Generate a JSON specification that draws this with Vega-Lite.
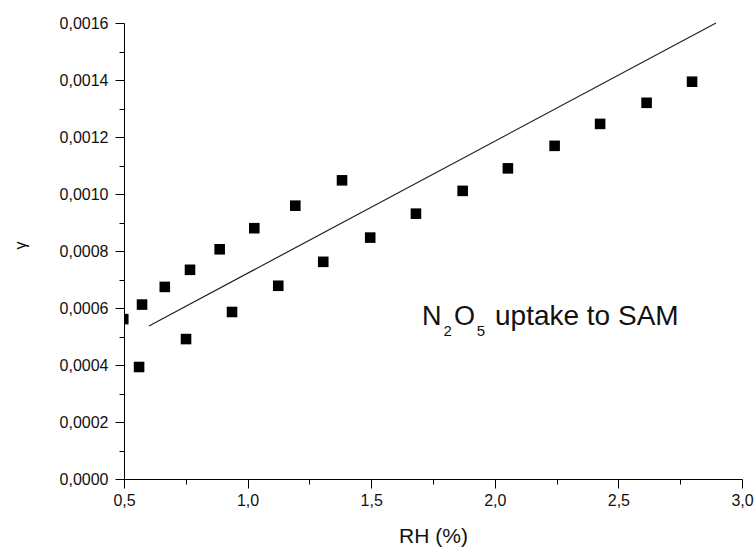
{
  "$schema": "https://vega.github.io/schema/vega-lite/v6.json",
  "width": 618,
  "height": 456,
  "autosize": {"type": "none"},
  "padding": {"left": 124, "top": 23, "right": 13, "bottom": 70},
  "background": "white",
  "config": {"view": {"stroke": null}, "font": "Liberation Sans"},
  "datasets": {
    "points": [
      {"rh": 0.497, "gamma": 0.000561},
      {"rh": 0.561, "gamma": 0.000393},
      {"rh": 0.573, "gamma": 0.000612},
      {"rh": 0.665, "gamma": 0.000674},
      {"rh": 0.751, "gamma": 0.000491},
      {"rh": 0.767, "gamma": 0.000734},
      {"rh": 0.887, "gamma": 0.000806},
      {"rh": 0.937, "gamma": 0.000586},
      {"rh": 1.027, "gamma": 0.000880},
      {"rh": 1.124, "gamma": 0.000678},
      {"rh": 1.193, "gamma": 0.000959},
      {"rh": 1.306, "gamma": 0.000762},
      {"rh": 1.382, "gamma": 0.001048},
      {"rh": 1.496, "gamma": 0.000847},
      {"rh": 1.681, "gamma": 0.000931},
      {"rh": 1.870, "gamma": 0.001011},
      {"rh": 2.053, "gamma": 0.001090},
      {"rh": 2.242, "gamma": 0.001169},
      {"rh": 2.426, "gamma": 0.001246},
      {"rh": 2.614, "gamma": 0.001320},
      {"rh": 2.798, "gamma": 0.001394}
    ],
    "fit": [
      {"rh": 0.601, "gamma": 0.000537},
      {"rh": 2.895, "gamma": 0.0016}
    ],
    "one": [{}]
  },
  "layer": [
    {
      "data": {"name": "points"},
      "mark": {"type": "point", "shape": "square", "filled": true, "size": 112, "color": "black", "opacity": 1, "clip": true},
      "encoding": {
        "x": {
          "field": "rh", "type": "quantitative",
          "scale": {"domain": [0.5, 3.0], "nice": false, "zero": false},
          "axis": {
            "orient": "bottom", "values": [0.5, 1, 1.5, 2, 2.5, 3], "title": "RH (%)",
            "labelExpr": "replace(format(datum.value, '.1f'), '.', ',')",
            "grid": false, "domainColor": "black", "domainWidth": 1, "tickColor": "black", "tickSize": 9, "tickWidth": 1,
            "labelFontSize": 16, "labelColor": "#111", "labelPadding": 4, "labelFlush": false, "labelOverlap": false,
            "titleFontSize": 21, "titleFontWeight": "normal", "titleColor": "#111", "titleY": 57, "titleBaseline": "middle"
          }
        },
        "y": {
          "field": "gamma", "type": "quantitative",
          "scale": {"domain": [0, 0.0016], "nice": false, "zero": false},
          "axis": {
            "orient": "left", "values": [0, 0.0002, 0.0004, 0.0006, 0.0008, 0.001, 0.0012, 0.0014, 0.0016], "title": "γ",
            "labelExpr": "replace(format(datum.value, '.4f'), '.', ',')",
            "grid": false, "domainColor": "black", "domainWidth": 1, "tickColor": "black", "tickSize": 9, "tickWidth": 1,
            "labelFontSize": 16, "labelColor": "#111", "labelPadding": 7, "labelFlush": false, "labelOverlap": false,
            "titleFontSize": 16, "titleFontWeight": "normal", "titleColor": "#111",
            "titleX": -104, "titleY": 222, "titleBaseline": "middle", "titleAlign": "center"
          }
        }
      }
    },
    {
      "data": {"name": "points"},
      "mark": {"type": "point", "opacity": 0},
      "encoding": {
        "x": {
          "field": "rh", "type": "quantitative",
          "axis": {"orient": "bottom", "values": [0.75, 1.25, 1.75, 2.25, 2.75], "labels": false, "domain": false, "grid": false, "title": null, "tickColor": "black", "tickSize": 5, "tickWidth": 1}
        },
        "y": {
          "field": "gamma", "type": "quantitative",
          "axis": {"orient": "left", "values": [0.0001, 0.0003, 0.0005, 0.0007, 0.0009, 0.0011, 0.0013, 0.0015], "labels": false, "domain": false, "grid": false, "title": null, "tickColor": "black", "tickSize": 5, "tickWidth": 1}
        }
      }
    },
    {
      "data": {"name": "fit"},
      "mark": {"type": "line", "color": "#222", "strokeWidth": 1.2},
      "encoding": {
        "x": {"field": "rh", "type": "quantitative", "axis": null},
        "y": {"field": "gamma", "type": "quantitative", "axis": null}
      }
    },
    {
      "data": {"name": "one"},
      "mark": {"type": "text", "text": "N", "fontSize": 27, "align": "left", "baseline": "alphabetic", "color": "#111"},
      "encoding": {"x": {"datum": 1.7055, "type": "quantitative", "axis": null}, "y": {"datum": 0.0005404, "type": "quantitative", "axis": null}}
    },
    {
      "data": {"name": "one"},
      "mark": {"type": "text", "text": "2", "fontSize": 15, "align": "left", "baseline": "alphabetic", "color": "#111"},
      "encoding": {"x": {"datum": 1.792, "type": "quantitative", "axis": null}, "y": {"datum": 0.000503, "type": "quantitative", "axis": null}}
    },
    {
      "data": {"name": "one"},
      "mark": {"type": "text", "text": "O", "fontSize": 27, "align": "left", "baseline": "alphabetic", "color": "#111"},
      "encoding": {"x": {"datum": 1.835, "type": "quantitative", "axis": null}, "y": {"datum": 0.0005404, "type": "quantitative", "axis": null}}
    },
    {
      "data": {"name": "one"},
      "mark": {"type": "text", "text": "5", "fontSize": 15, "align": "left", "baseline": "alphabetic", "color": "#111"},
      "encoding": {"x": {"datum": 1.927, "type": "quantitative", "axis": null}, "y": {"datum": 0.000503, "type": "quantitative", "axis": null}}
    },
    {
      "data": {"name": "one"},
      "mark": {"type": "text", "text": "uptake to SAM", "fontSize": 28, "align": "left", "baseline": "alphabetic", "color": "#111"},
      "encoding": {"x": {"datum": 2.0008, "type": "quantitative", "axis": null}, "y": {"datum": 0.0005404, "type": "quantitative", "axis": null}}
    }
  ],
  "resolve": {"axis": {"x": "independent", "y": "independent"}}
}
